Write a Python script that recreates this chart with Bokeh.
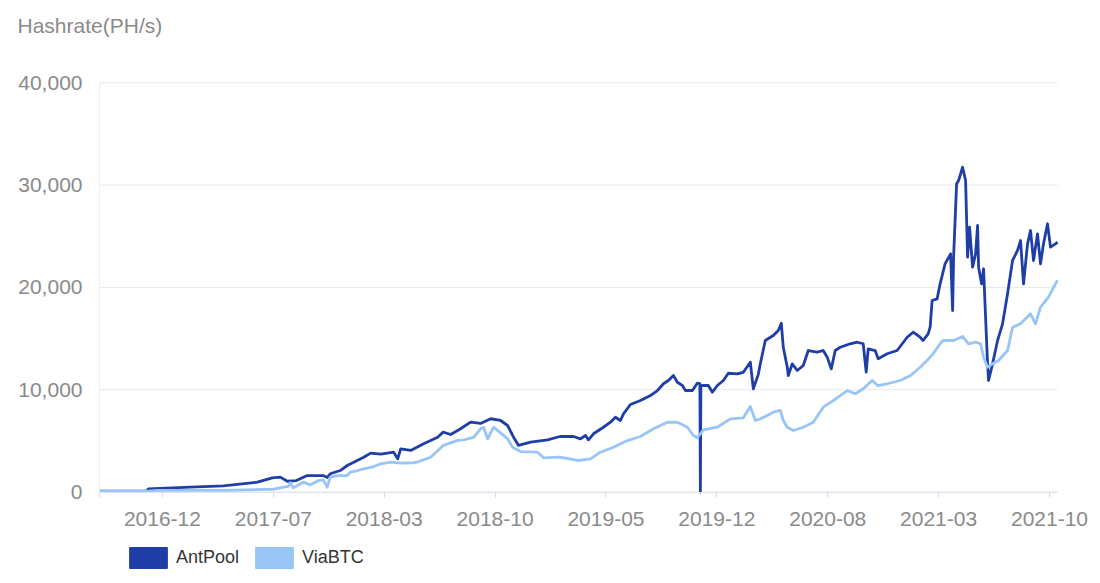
import pandas as pd
from bokeh.plotting import figure
from bokeh.models import (ColumnDataSource, Range1d, FixedTicker, DatetimeTickFormatter,
                          NumeralTickFormatter, Legend, LegendItem, Label)
from bokeh.embed import file_html
from bokeh.resources import INLINE

FONT = "Liberation Sans"
NAN = float("nan")

# ---------------- data ----------------
series_names = ["AntPool", "ViaBTC"]
y_axis_name = "Hashrate(PH/s)"

ant_dates = (
    ["2016-08-11", "2016-11-13", "2016-11-17"]
    + ["2017-02-09", "2017-04-16", "2017-06-23", "2017-07-23", "2017-08-08", "2017-08-22", "2017-09-09",
       "2017-10-01", "2017-11-02", "2017-11-10", "2017-11-16", "2017-12-06", "2017-12-20"]
    + ["2018-01-22", "2018-02-05", "2018-02-25", "2018-03-23", "2018-03-31", "2018-04-06", "2018-04-26",
       "2018-05-22", "2018-06-19", "2018-06-30", "2018-07-15", "2018-08-04", "2018-08-24", "2018-09-13",
       "2018-10-03", "2018-10-23", "2018-11-06", "2018-11-18", "2018-11-28", "2018-12-22"]
    + ["2019-01-25", "2019-02-19", "2019-03-18", "2019-04-01", "2019-04-11", "2019-04-17", "2019-04-27",
       "2019-05-17", "2019-05-31", "2019-06-10", "2019-06-20", "2019-06-26", "2019-07-10", "2019-07-30",
       "2019-08-19", "2019-09-02", "2019-09-14", "2019-09-24", "2019-10-04", "2019-10-12", "2019-10-22",
       "2019-10-28", "2019-11-11", "2019-11-21", "2019-11-26", "2019-11-27", "2019-11-28", "2019-12-03",
       "2019-12-13", "2019-12-21", "2019-12-31"]
    + ["2020-01-12", "2020-01-22", "2020-02-09", "2020-02-21", "2020-03-06", "2020-03-12", "2020-03-22",
       "2020-03-26", "2020-04-05", "2020-04-21", "2020-05-01", "2020-05-07", "2020-05-11", "2020-05-19",
       "2020-05-21", "2020-05-29", "2020-06-08", "2020-06-20", "2020-06-30", "2020-07-18", "2020-07-30",
       "2020-08-07", "2020-08-15", "2020-08-23", "2020-09-02", "2020-09-22", "2020-10-06", "2020-10-18",
       "2020-10-24", "2020-10-28", "2020-11-11", "2020-11-17", "2020-12-05", "2020-12-25"]
    + ["2021-01-14", "2021-01-26", "2021-02-09", "2021-02-15", "2021-02-25", "2021-03-01", "2021-03-05",
       "2021-03-15", "2021-03-21", "2021-03-31", "2021-04-11", "2021-04-15", "2021-04-17", "2021-04-23",
       "2021-04-27", "2021-05-05", "2021-05-11", "2021-05-15", "2021-05-19", "2021-05-25", "2021-05-31",
       "2021-06-04", "2021-06-06", "2021-06-12", "2021-06-16", "2021-06-20", "2021-06-24", "2021-06-26",
       "2021-07-04", "2021-07-14", "2021-07-24", "2021-08-03", "2021-08-13", "2021-08-23", "2021-08-29",
       "2021-09-04", "2021-09-12", "2021-09-18", "2021-09-24", "2021-10-02", "2021-10-08", "2021-10-14",
       "2021-10-22", "2021-10-28", "2021-11-07", "2021-11-11"]
)
ant_values = (
    [80, 80, 300]
    + [470, 600, 960, 1380, 1450, 1050, 1120,
       1610, 1610, 1420, 1780, 2100, 2590]
    + [3400, 3800, 3700, 3890, 3250, 4220, 4060,
       4710, 5360, 5850, 5620, 6180, 6830, 6700,
       7160, 6990, 6500, 5360, 4550, 4870]
    + [5100, 5425, 5425, 5200, 5520, 5100, 5690,
       6330, 6820, 7310, 6990, 7640, 8550, 8940,
       9430, 9920, 10580, 10900, 11390, 10730, 10410,
       9920, 9920, 10640, 10600, 0, 10400, 10410,
       10410, 9760, 10410]
    + [10900, 11610, 11540, 11700, 12690, 10090, 11500,
       12530, 14810, 15300, 15790, 16500, 14150, 12200,
       11390, 12530, 11880, 12370, 13830, 13670, 13830,
       13180, 12040, 13830, 14150, 14490, 14640, 14490,
       11710, 14000, 13830, 13020, 13510, 13830]
    + [15130, 15620, 15130, 14810, 15460, 16110, 18720,
       18880, 20350, 22310, 23280, 17740, 23000, 30130,
       30450, 31750, 30450, 22950, 25890, 21980, 23280,
       26050, 21980, 20350, 21820, 17090, 12530, 10900,
       12530, 14810, 16440, 19370, 22630, 23610, 24580,
       20350, 24260, 25560, 22630, 25240, 22310, 24260,
       26220, 23930, 24260, 24430]
)

via_dates = (
    ["2016-08-11", "2016-11-17", "2016-12-05"]
    + ["2017-04-16", "2017-07-25", "2017-08-24", "2017-08-28", "2017-09-03", "2017-09-23", "2017-10-07",
       "2017-10-23", "2017-11-02", "2017-11-10", "2017-11-16", "2017-11-30", "2017-12-20", "2017-12-26"]
    + ["2018-01-10", "2018-01-22", "2018-02-11", "2018-02-25", "2018-03-17", "2018-04-06", "2018-05-01",
       "2018-05-09", "2018-06-05", "2018-06-30", "2018-07-09", "2018-07-29", "2018-08-10", "2018-08-30",
       "2018-09-13", "2018-09-19", "2018-09-27", "2018-10-09", "2018-10-29", "2018-11-06", "2018-11-16",
       "2018-12-02"]
    + ["2019-01-05", "2019-01-17", "2019-02-19", "2019-03-26", "2019-04-21", "2019-05-11", "2019-06-06",
       "2019-07-04", "2019-07-30", "2019-08-25", "2019-09-22", "2019-10-12", "2019-11-01", "2019-11-13",
       "2019-11-21", "2019-12-03", "2019-12-31"]
    + ["2020-01-26", "2020-02-21", "2020-03-06", "2020-03-16", "2020-03-26", "2020-04-09", "2020-04-21",
       "2020-05-05", "2020-05-11", "2020-05-19", "2020-05-31", "2020-06-20", "2020-07-10", "2020-07-30",
       "2020-08-19", "2020-09-16", "2020-10-02", "2020-10-18", "2020-11-05", "2020-11-16", "2020-12-05",
       "2020-12-31"]
    + ["2021-01-21", "2021-02-09", "2021-02-23", "2021-03-07", "2021-03-21", "2021-03-27", "2021-04-17",
       "2021-05-05", "2021-05-17", "2021-05-31", "2021-06-10", "2021-06-16", "2021-06-24", "2021-07-04",
       "2021-07-16", "2021-08-03", "2021-08-13", "2021-08-29", "2021-09-18", "2021-09-28", "2021-10-08",
       "2021-10-24", "2021-11-07", "2021-11-11"]
)
via_values = (
    [80, 80, 150]
    + [150, 270, 540, 900, 400, 960, 700,
       1100, 1190, 470, 1450, 1610, 1610, 1940]
    + [2100, 2270, 2490, 2760, 2920, 2820, 2860,
       2920, 3400, 4550, 4710, 5040, 5100, 5330,
       6180, 6340, 5200, 6340, 5530, 5200, 4380,
       3950]
    + [3890, 3340, 3400, 3080, 3240, 3890, 4380,
       5030, 5425, 6180, 6820, 6820, 6330, 5520,
       5300, 6080, 6330]
    + [7150, 7250, 8360, 6990, 7150, 7480, 7800,
       7970, 6990, 6330, 6010, 6330, 6820, 8290,
       8940, 9920, 9600, 10090, 10900, 10410, 10580,
       10900]
    + [11390, 12200, 12850, 13510, 14490, 14810, 14810,
       15200, 14490, 14650, 14490, 13180, 12200, 12530,
       12850, 13830, 16110, 16440, 17420, 16440, 18070,
       19040, 20350, 20690]
)

x_tick_dates = ["2016-12-15", "2017-07-25", "2018-03-04", "2018-10-12", "2019-05-22",
                "2019-12-30", "2020-08-08", "2021-03-18", "2021-10-26"]
y_ticks = [0, 10000, 20000, 30000, 40000]
x_start, x_end = "2016-08-11", "2021-11-11"

ANT_COLOR = "#1f3ea6"
VIA_COLOR = "#98c5f5"
GRID = "#e6e9f0"
TXT = "#8a8a8a"

# ---------------- layout (pixels) ----------------
W, H = 1100, 583
PLOT_L, PLOT_R, PLOT_T, PLOT_B = 99, 1057, 82.3, 491.5   # plotting area inside the canvas


def ms(d):
    return int(pd.Timestamp(d).value // 10**6)


x0, x1 = ms(x_start), ms(x_end)
ms_per_px = (x1 - x0) / (PLOT_R - PLOT_L)
u_per_px = (y_ticks[-1] - y_ticks[0]) / (PLOT_B - PLOT_T)
xr = Range1d(x0 - PLOT_L * ms_per_px, x1 + (W - PLOT_R) * ms_per_px)
yr = Range1d(y_ticks[0] - (H - PLOT_B) * u_per_px, y_ticks[-1] + PLOT_T * u_per_px)

p = figure(width=W, height=H, x_axis_type="datetime", x_range=xr, y_range=yr,
           output_backend="svg", toolbar_location=None,
           min_border=0, min_border_left=0, min_border_right=0, min_border_top=0,
           min_border_bottom=0)
p.outline_line_color = None
p.background_fill_color = "white"
p.border_fill_color = "white"
p.xgrid.grid_line_color = None
p.ygrid.grid_line_color = None

# horizontal grid lines across the plotting area only
p.segment(x0=[pd.Timestamp(x_start)] * len(y_ticks), x1=[pd.Timestamp(x_end)] * len(y_ticks),
          y0=y_ticks, y1=y_ticks, line_color=GRID, line_width=1)

src_a = ColumnDataSource(dict(x=pd.to_datetime(ant_dates), y=ant_values))
src_v = ColumnDataSource(dict(x=pd.to_datetime(via_dates), y=via_values))
p.line("x", "y", source=src_a, line_color=ANT_COLOR, line_width=2.8, line_join="round")
p.line("x", "y", source=src_v, line_color=VIA_COLOR, line_width=2.8, line_join="round")

# axes fixed at the plotting-area edges
xa = p.xaxis[0]
xa.fixed_location = y_ticks[0]
xa.bounds = (x0, x1)
xa.ticker = FixedTicker(ticks=[ms(d) for d in x_tick_dates], minor_ticks=[x0])
fmt = "%Y-%m"
xa.formatter = DatetimeTickFormatter(microseconds=fmt, milliseconds=fmt, seconds=fmt, minsec=fmt,
                                     minutes=fmt, hourmin=fmt, hours=fmt, days=fmt,
                                     months=fmt, years=fmt)
xa.axis_line_color = "#dfe3ec"
xa.major_tick_line_color = "#d6dae3"
xa.minor_tick_line_color = "#d6dae3"
xa.major_tick_in = 0
xa.major_tick_out = 5
xa.minor_tick_in = 0
xa.minor_tick_out = 5
xa.major_label_standoff = 15
xa.major_label_text_font = FONT
xa.major_label_text_font_size = "21px"
xa.major_label_text_color = TXT

ya = p.yaxis[0]
ya.fixed_location = x0
ya.bounds = (y_ticks[0], y_ticks[-1])
ya.ticker = FixedTicker(ticks=y_ticks)
ya.formatter = NumeralTickFormatter(format="0,0")
ya.axis_line_color = "#eceef4"
ya.major_tick_line_color = None
ya.minor_tick_line_color = None
ya.major_tick_out = 0
ya.major_label_standoff = 17
ya.major_label_text_font = FONT
ya.major_label_text_font_size = "21px"
ya.major_label_text_color = TXT

# axis name at the top-left
p.add_layout(Label(x=17, y=H - 25, x_units="screen", y_units="screen", text=y_axis_name,
                   text_font=FONT, text_font_size="21px", text_color=TXT,
                   text_baseline="middle", text_align="left"))

# legend with rectangular icons (proxy renderers hold a single empty row)
ra = p.quad(left=[NAN], right=[NAN], top=[NAN], bottom=[NAN], fill_color=ANT_COLOR,
            line_color=ANT_COLOR, line_width=2, line_join="round")
rv = p.quad(left=[NAN], right=[NAN], top=[NAN], bottom=[NAN], fill_color=VIA_COLOR,
            line_color=VIA_COLOR, line_width=2, line_join="round")
legend = Legend(items=[LegendItem(label=series_names[0], renderers=[ra]),
                       LegendItem(label=series_names[1], renderers=[rv])],
                location=(125, 13), orientation="horizontal",
                glyph_width=46, glyph_height=25, label_standoff=5, spacing=12,
                padding=0, margin=0, border_line_color=None, background_fill_alpha=0,
                label_text_font=FONT, label_text_font_size="18px", label_text_color="#333333",
                label_height=25)
p.add_layout(legend)

open("out.html", "w").write(file_html(p, INLINE))
